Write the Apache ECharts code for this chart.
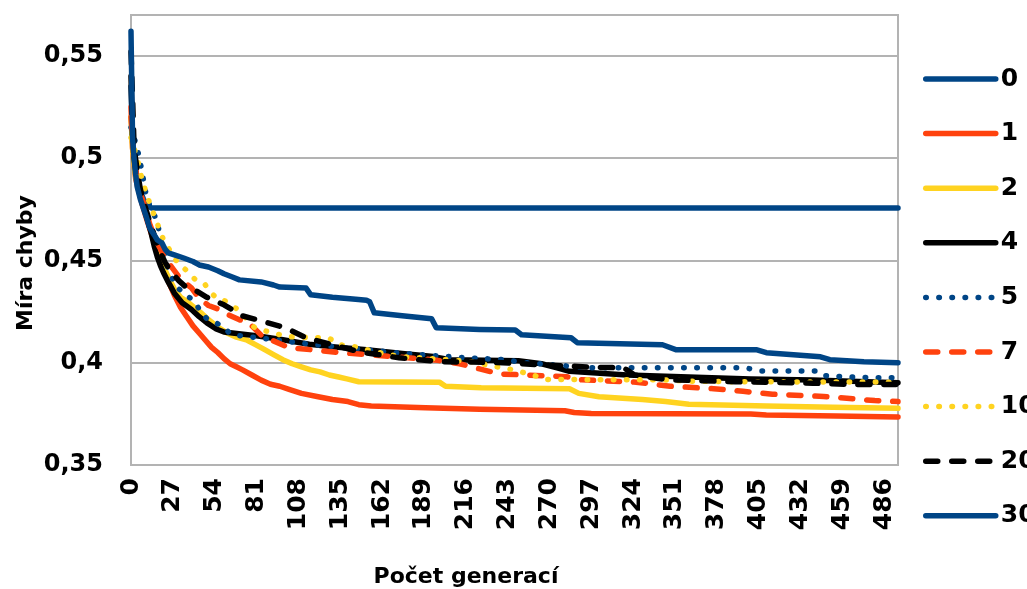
<!DOCTYPE html>
<html>
<head>
<meta charset="utf-8">
<script src="https://cdn.jsdelivr.net/npm/echarts@6/dist/echarts.min.js"></script>
<style>
  html, body { margin: 0; padding: 0; background: #ffffff; }
  #chart { width: 1027px; height: 589px; }
</style>
</head>
<body>
<div id="chart"></div>
<script>
// Best error per generation for each setting; [generation, error] breakpoints.
const seriesNames = ['0', '1', '2', '4', '5', '7', '10', '20', '30'];

const run0 = [[0,0.535],[1,0.508],[2,0.499],[4,0.49],[6,0.484],[8,0.48],[10,0.4775],[13,0.4757],[495,0.4757]];

const run1 = [[0,0.525],[1,0.505],[2,0.497],[3,0.49],[5,0.484],[7,0.478],[9,0.473],[11,0.468],[13,0.4635],[15,0.459],[17,0.455],[19,0.451],[21,0.446],[24,0.44],[28,0.433],[32,0.427],[36,0.4225],[40,0.418],[44,0.4145],[48,0.411],[52,0.4075],[56,0.405],[60,0.402],[64,0.3995],[68,0.398],[72,0.3965],[78,0.394],[84,0.3915],[90,0.3895],[96,0.3885],[102,0.387],[110,0.385],[120,0.3835],[130,0.382],[140,0.381],[147,0.3795],[155,0.3788],[190,0.378],[225,0.3772],[280,0.3765],[286,0.3757],[297,0.3752],[400,0.3749],[410,0.3744],[455,0.374],[495,0.3735]];

const run2 = [[0,0.52],[1,0.505],[2,0.497],[3,0.491],[5,0.485],[7,0.479],[9,0.474],[11,0.47],[13,0.465],[15,0.46],[17,0.455],[19,0.451],[21,0.447],[24,0.442],[28,0.436],[32,0.432],[36,0.43],[40,0.4275],[45,0.4245],[50,0.421],[56,0.4175],[62,0.4145],[68,0.4125],[75,0.411],[80,0.409],[86,0.4065],[92,0.404],[98,0.4015],[104,0.3995],[110,0.398],[116,0.3965],[122,0.3955],[128,0.394],[134,0.393],[140,0.392],[147,0.3907],[199,0.3905],[203,0.3885],[226,0.3878],[283,0.3873],[289,0.385],[302,0.3834],[330,0.382],[345,0.381],[360,0.3797],[410,0.3788],[453,0.3782],[495,0.3777]];

const run4 = [[0,0.54],[1,0.51],[2,0.5],[3,0.494],[5,0.486],[7,0.479],[9,0.474],[11,0.469],[13,0.4634],[15,0.457],[17,0.4517],[19,0.4475],[21,0.444],[24,0.4395],[28,0.434],[33,0.4293],[39,0.426],[44,0.4225],[49,0.4195],[55,0.4165],[60,0.415],[71,0.414],[81,0.4132],[98,0.4112],[115,0.409],[130,0.4078],[152,0.4063],[175,0.4045],[195,0.403],[206,0.4015],[250,0.401],[265,0.3995],[275,0.3975],[283,0.3958],[320,0.394],[355,0.3932],[400,0.392],[440,0.3915],[495,0.3902]];

const run5 = [[0,0.515],[2,0.51],[4,0.505],[7,0.494],[10,0.481],[13,0.475],[16,0.4707],[18,0.465],[20,0.457],[23,0.448],[26,0.442],[30,0.4366],[36,0.433],[41,0.4298],[45,0.425],[49,0.4215],[55,0.4195],[60,0.417],[65,0.4137],[76,0.4127],[90,0.4115],[110,0.4095],[130,0.408],[150,0.4065],[170,0.405],[195,0.4035],[215,0.4025],[240,0.4015],[255,0.4],[280,0.3985],[295,0.3976],[395,0.3976],[400,0.397],[407,0.396],[443,0.396],[447,0.3937],[470,0.3928],[495,0.3926]];

const run7 = [[0,0.52],[2,0.5],[4,0.49],[6,0.483],[9,0.476],[12,0.468],[15,0.462],[18,0.457],[21,0.453],[23,0.45],[27,0.446],[31,0.442],[35,0.439],[39,0.4366],[44,0.4315],[50,0.428],[57,0.426],[63,0.4234],[70,0.421],[76,0.4195],[84,0.4135],[91,0.411],[102,0.4073],[117,0.4063],[134,0.405],[160,0.4035],[195,0.4015],[212,0.3995],[225,0.397],[238,0.3945],[281,0.3932],[290,0.3917],[326,0.3905],[348,0.3885],[376,0.3873],[395,0.386],[414,0.3846],[447,0.3835],[466,0.3824],[480,0.3815],[495,0.381]];

const run10 = [[0,0.51],[2,0.505],[4,0.5],[6,0.493],[9,0.485],[12,0.478],[15,0.472],[18,0.466],[21,0.46],[25,0.455],[30,0.449],[36,0.445],[41,0.441],[47,0.439],[52,0.434],[56,0.431],[60,0.4305],[69,0.426],[80,0.417],[87,0.4155],[96,0.4137],[102,0.4127],[128,0.412],[134,0.4088],[143,0.408],[160,0.405],[173,0.403],[205,0.4015],[220,0.4005],[229,0.399],[246,0.3966],[259,0.3941],[268,0.3918],[346,0.3916],[360,0.391],[389,0.3907],[495,0.3905]];

const run20 = [[0,0.552],[1,0.53],[2,0.505],[4,0.494],[6,0.485],[8,0.479],[10,0.474],[13,0.467],[16,0.46],[19,0.454],[22,0.449],[26,0.4444],[31,0.44],[36,0.4366],[41,0.4356],[49,0.432],[60,0.4283],[72,0.4229],[84,0.4205],[100,0.417],[113,0.4122],[130,0.4088],[147,0.4054],[173,0.4024],[199,0.4005],[220,0.4003],[240,0.4],[265,0.399],[298,0.3978],[318,0.3975],[325,0.394],[346,0.3917],[390,0.3907],[440,0.39],[470,0.3893],[495,0.3893]];

const run30 = [[0,0.562],[1,0.51],[2,0.5],[3,0.492],[4,0.486],[6,0.48],[8,0.4755],[10,0.471],[12,0.466],[15,0.4625],[17,0.46],[20,0.4585],[22,0.4555],[24,0.4537],[28,0.4527],[34,0.4512],[40,0.4495],[44,0.4478],[50,0.4468],[56,0.445],[60,0.4435],[65,0.442],[70,0.4405],[84,0.4395],[92,0.438],[96,0.437],[113,0.4365],[116,0.4332],[130,0.432],[145,0.431],[152,0.4305],[154,0.4298],[157,0.4244],[175,0.423],[194,0.4215],[197,0.4171],[225,0.4163],[248,0.416],[252,0.4137],[284,0.4122],[288,0.4098],[343,0.4088],[352,0.4063],[404,0.4063],[410,0.4049],[445,0.4029],[451,0.4015],[473,0.4005],[495,0.4]];

// Axis ranges and ticks
const genMax = 495;
const genStep = 27;
const errMin = 0.35;
const errMax = 0.57;
const errStep = 0.05;

const BLUE = '#004586';
const ORANGE = '#ff420e';
const YELLOW = '#ffd320';
const BLACK = '#000000';
const GRID_GREY = '#b3b3b3';
const FONT = 'DejaVu Sans';

const LW = 5.5;
const solid = 'solid';
const dotted = [0.5, 12.6];
const dashed = [12, 14];

const runs = [run0, run1, run2, run4, run5, run7, run10, run20, run30];
const colors = [BLUE, ORANGE, YELLOW, BLACK, BLUE, ORANGE, YELLOW, BLACK, BLUE];
const dashes = [solid, solid, solid, solid, dotted, dashed, dotted, dashed, solid];

const chart = echarts.init(document.getElementById('chart'), null, { renderer: 'canvas' });

// Legend entries: plain line samples in each series' own stroke
const legendData = seriesNames.map((n, i) => ({
  name: n,
  itemStyle: { opacity: 0, borderWidth: 0 },
  lineStyle: { color: colors[i], width: LW, type: dashes[i], cap: 'round', opacity: 1 }
}));

chart.setOption({
  animation: false,
  backgroundColor: '#ffffff',
  grid: {
    left: 131, right: 129, top: 15, bottom: 124,
    show: true, borderColor: GRID_GREY, borderWidth: 2,
    containLabel: false
  },
  legend: {
    orient: 'vertical',
    left: 918,
    top: 59,
    itemWidth: 70,
    itemHeight: 30,
    itemGap: 24.6,
    data: legendData,
    itemStyle: { opacity: 0, borderWidth: 0 },
    lineStyle: { width: LW, cap: 'round' },
    textStyle: {
      fontFamily: FONT, fontWeight: 'bold', fontSize: 25, color: '#000',
      lineHeight: 30
    }
  },
  xAxis: {
    type: 'value',
    min: 0, max: genMax, interval: genStep,
    splitLine: { show: false },
    axisTick: { show: false },
    axisLine: { show: true, lineStyle: { color: GRID_GREY, width: 2 } },
    axisLabel: {
      rotate: 90,
      margin: 13,
      fontFamily: FONT, fontWeight: 'bold', fontSize: 25, color: '#000',
      formatter: v => (v % genStep === 0 ? String(v) : '')
    }
  },
  yAxis: {
    type: 'value',
    min: errMin, max: errMax, interval: errStep,
    axisTick: { show: false },
    axisLine: { show: false },
    splitLine: { show: true, lineStyle: { color: GRID_GREY, width: 2 } },
    axisLabel: {
      margin: 28,
      fontFamily: FONT, fontWeight: 'bold', fontSize: 24, color: '#000',
      formatter: v => {
        const r = Math.round(v * 100) / 100;
        if (Math.abs(r * 20 - Math.round(r * 20)) > 1e-6) return '';
        return String(r).replace('.', ',');
      }
    }
  },
  graphic: [
    {
      type: 'text',
      style: {
        text: 'Míra chyby',
        fontFamily: FONT, fontWeight: 'bold', fontSize: 22, fill: '#000',
        textAlign: 'center', textVerticalAlign: 'middle'
      },
      x: 26, y: 263, rotation: Math.PI / 2
    },
    {
      type: 'text',
      style: {
        text: 'Počet generací',
        fontFamily: FONT, fontWeight: 'bold', fontSize: 22, fill: '#000',
        textAlign: 'center', textVerticalAlign: 'middle'
      },
      x: 466, y: 577
    }
  ],
  series: runs.map((d, i) => ({
    name: seriesNames[i],
    type: 'line',
    data: d,
    symbol: 'none',
    showSymbol: false,
    silent: true,
    z: 2 + i,
    lineStyle: {
      color: colors[i], width: LW, type: dashes[i],
      cap: 'round', join: 'round'
    },
    itemStyle: { color: colors[i] },
    emphasis: { disabled: true }
  }))
});
</script>
</body>
</html>
